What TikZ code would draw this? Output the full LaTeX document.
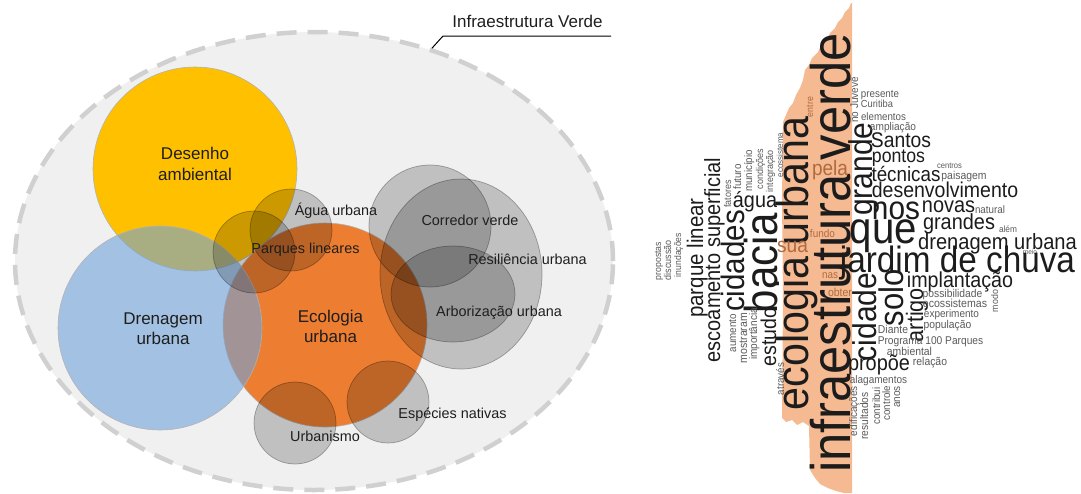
\documentclass[tikz,border=0pt]{standalone}
\usepackage{fontspec}
\setmainfont{Liberation Sans}
\usetikzlibrary{positioning,shapes.geometric}
\definecolor{gold}{RGB}{255,192,0}
\definecolor{sky}{RGB}{113,163,218}
\definecolor{ember}{RGB}{237,125,49}
\definecolor{halo}{RGB}{240,240,240}
\definecolor{rimgrey}{RGB}{208,208,208}
\definecolor{peach}{RGB}{245,186,146}
\definecolor{rust}{RGB}{176,106,62}
\definecolor{ink}{RGB}{30,30,30}
\definecolor{cloudink}{RGB}{28,28,28}
\definecolor{cloudgrey}{RGB}{90,90,90}
\newcommand{\wsz}[1]{\fontsize{#1}{#1}\selectfont}
\newcommand{\tall}[1]{\scalebox{1}[1.1]{#1}}
\tikzset{
  topicset/.style={circle, inner sep=0pt, line width=0.6pt, draw=black!30},
  grayset/.style={inner sep=0pt, fill=black, fill opacity=0.2, draw=black, draw opacity=0.3, line width=0.7pt},
  bigtag/.style={align=center, inner sep=0pt, text=ink, font=\fontsize{17}{20.5}\selectfont},
  tag/.style={inner sep=0pt, text=ink, font=\fontsize{14.4}{17}\selectfont},
  word/.style={inner sep=0pt, anchor=base, text=cloudink},
  vword/.style={word, rotate=90},
  faint/.style={text=cloudgrey},
  rusty/.style={text=rust}
}

\begin{document}
\begin{tikzpicture}[x=1pt, y=-1pt]
  \useasboundingbox (0,0) rectangle (1081,493);

  % Venn of themes
  \node[ellipse, inner sep=0pt, minimum width=598pt, minimum height=458pt, fill=halo, draw=rimgrey,
        line width=4.5pt, dash pattern=on 20pt off 11pt] (infra) at (314,261) {};
  \node[topicset, fill=gold, minimum size=204pt] (desenho) at (195,169) {};
  \node[topicset, fill=ember, minimum size=204pt] (ecologia) at (325,325) {};
  \node[topicset, fill=sky, fill opacity=0.6, minimum size=204pt] (drenagem) at (160,328) {};
  \node[grayset, circle, minimum size=82pt] (agua) at (291,230) {};
  \node[grayset, circle, minimum size=82pt] (parques) at (254,252) {};
  \node[grayset, circle, minimum size=122pt] (corredor) at (430,226) {};
  \node[grayset, ellipse, minimum width=162pt, minimum height=190pt] (resiliencia) at (461,274) {};
  \node[grayset, ellipse, minimum width=124pt, minimum height=96pt] (arborizacao) at (453,294) {};
  \node[grayset, circle, minimum size=82pt] (especies) at (388,402) {};
  \node[grayset, circle, minimum size=82pt] (urbanismo) at (295,423) {};

  \node[bigtag] (desenho-tag) at (195,164) {Desenho\\ambiental};
  \node[bigtag] (drenagem-tag) at (163,328.5) {Drenagem\\urbana};
  \node[bigtag] (ecologia-tag) at (330.5,326.5) {Ecologia\\urbana};
  \node[tag] (agua-tag) at (336,211) {Água urbana};
  \node[tag] (parques-tag) at (305.5,250) {Parques lineares};
  \node[tag] (corredor-tag) at (470,220) {Corredor verde};
  \node[tag] (resiliencia-tag) at (527.5,259) {Resiliência urbana};
  \node[tag] (arborizacao-tag) at (499,313) {Arborização urbana};
  \node[tag] (especies-tag) at (452.5,415) {Espécies nativas};
  \node[tag] (urbanismo-tag) at (325,436) {Urbanismo};

  \node[bigtag, anchor=base] (infra-tag) at (527.5,27.5) {Infraestrutura Verde};
  \coordinate (kink) at (443,36);
  \coordinate (tail) at (611,36);
  \draw[line width=1pt] (infra.61) -- (kink) -- (tail);

  % word cloud
  \fill[peach] (851,3) -- (849,8) -- (845,12) -- (842,18) -- (838,22) -- (835,28) -- (830,33)
    -- (827,40) -- (821,45) -- (818,52) -- (812,58) -- (809,65) -- (805,70) -- (803,80)
    -- (800,88) -- (796,95) -- (793,103) -- (789,108) -- (786,115) -- (783,122) -- (782,200)
    -- (783,300) -- (782,418) -- (786,422) -- (792,420) -- (797,425) -- (803,422) -- (809,426)
    -- (810,470) -- (815,478) -- (820,484) -- (828,488) -- (836,491) -- (844,493) -- (852,493)
    -- (852,3) -- cycle;

  \node[vword, faint, font=\wsz{8.7}] (w-propostas) at (661,261) {\tall{propostas}};
  \node[vword, faint, font=\wsz{9}] (w-discussao) at (671,260) {\tall{discussão}};
  \node[vword, faint, font=\wsz{8.6}] (w-inundacoes) at (681,255) {\tall{inundações}};
  \node[vword, font=\wsz{20.5}] (w-parque) at (703,258) {\tall{parque linear}};
  \node[vword, font=\wsz{20}] (w-escoamento) at (720,260) {\tall{escoamento superficial}};
  \node[vword, faint, font=\wsz{9}] (w-fatores) at (731,194) {\tall{fatores}};
  \node[vword, faint, font=\wsz{9.8}] (w-futuro) at (741,177) {\tall{futuro}};
  \node[vword, faint, font=\wsz{9.8}] (w-municipio) at (752,171) {\tall{município}};
  \node[vword, faint, font=\wsz{9}] (w-condicoes) at (763,169) {\tall{condições}};
  \node[vword, faint, font=\wsz{9}] (w-integracao) at (773,171) {\tall{integração}};
  \node[vword, faint, font=\wsz{8}] (w-ecossistema) at (783,155) {\tall{ecossistema}};
  \node[vword, font=\wsz{29.5}] (w-cidades) at (744,261) {\tall{cidades}};
  \node[vword, font=\wsz{42}] (w-bacia) at (777,263) {\tall{bacia}};
  \node[vword, font=\wsz{19.5}] (w-estudo) at (776,337) {\tall{estudo}};
  \node[vword, faint, font=\wsz{9.8}] (w-aumento) at (736,333) {\tall{aumento}};
  \node[vword, faint, font=\wsz{10.5}] (w-mostraram) at (747,338) {\tall{mostraram}};
  \node[vword, faint, font=\wsz{10}] (w-importancia) at (757,334) {\tall{importância}};
  \node[vword, faint, font=\wsz{9.8}] (w-atraves) at (784,379) {\tall{através}};
  \node[vword, font=\wsz{41.2}] (w-ecologia) at (808,263.5) {\tall{ecologia urbana}};
  \node[vword, font=\wsz{50.7}] (w-infra) at (850,253) {\tall{infraestrutura verde}};
  \node[vword, rusty, font=\wsz{8.8}] (w-entre) at (813,107) {\tall{entre}};
  \node[vword, faint, font=\wsz{10}] (w-juveve) at (858,100) {\tall{no Juvevê}};
  \node[vword, font=\wsz{30}] (w-grande) at (872,169) {\tall{grande}};
  \node[vword, font=\wsz{30}] (w-cidade) at (876,317) {\tall{cidade}};
  \node[vword, font=\wsz{31}] (w-solo) at (903,298) {\tall{solo}};
  \node[vword, font=\wsz{21.6}] (w-artigo) at (923,315) {\tall{artigo}};
  \node[vword, faint, font=\wsz{8.8}] (w-modo) at (998,301) {\tall{modo}};
  \node[vword, faint, font=\wsz{10}] (w-edificacoes) at (857,411) {\tall{edificações}};
  \node[vword, faint, font=\wsz{10.2}] (w-resultados) at (868,416) {\tall{resultados}};
  \node[vword, faint, font=\wsz{9.8}] (w-contribui) at (880,406) {\tall{contribui}};
  \node[vword, faint, font=\wsz{9.8}] (w-controle) at (890,403) {\tall{controle}};
  \node[vword, faint, font=\wsz{10}] (w-anos) at (900,397) {\tall{anos}};

  \node[word, faint, font=\wsz{9.8}] (w-presente) at (880,97) {\tall{presente}};
  \node[word, faint, font=\wsz{9.3}] (w-curitiba) at (877,107) {\tall{Curitiba}};
  \node[word, faint, font=\wsz{9.75}] (w-elementos) at (883.5,120.5) {\tall{elementos}};
  \node[word, faint, font=\wsz{10.1}] (w-ampliacao) at (893,130) {\tall{ampliação}};
  \node[word, font=\wsz{19.3}] (w-santos) at (901,147) {\tall{Santos}};
  \node[word, font=\wsz{17.7}] (w-pontos) at (898.5,162.5) {\tall{pontos}};
  \node[word, faint, font=\wsz{7.6}] (w-centros) at (949.5,168) {\tall{centros}};
  \node[word, font=\wsz{18.8}] (w-tecnicas) at (906,181.5) {\tall{técnicas}};
  \node[word, faint, font=\wsz{10.4}] (w-paisagem) at (964,179) {\tall{paisagem}};
  \node[word, font=\wsz{19.5}] (w-desenvolvimento) at (945,197.5) {\tall{desenvolvimento}};
  \node[word, font=\wsz{19.9}] (w-novas) at (948.5,212) {\tall{novas}};
  \node[word, faint, font=\wsz{9.8}] (w-natural) at (990,213) {\tall{natural}};
  \node[word, font=\wsz{29.8}] (w-nos) at (896,219.5) {\tall{nos}};
  \node[word, font=\wsz{19.9}] (w-grandes) at (959,229.5) {\tall{grandes}};
  \node[word, faint, font=\wsz{8.3}] (w-alem) at (1008,232.7) {\tall{além}};
  \node[word, font=\wsz{40.2}] (w-que) at (883.5,243) {\tall{que}};
  \node[word, font=\wsz{20.1}] (w-drenagem) at (997.5,249.5) {\tall{drenagem urbana}};
  \node[word, faint, font=\wsz{6.5}] (w-meio) at (1030,254) {\tall{meio}};
  \node[word, font=\wsz{33.3}] (w-jardim) at (957.5,272.5) {\tall{jardim de chuva}};
  \node[word, font=\wsz{19.7}] (w-implantacao) at (960,287) {\tall{implantação}};
  \node[word, faint, font=\wsz{10.3}] (w-possibilidade) at (952.5,297.5) {\tall{possibilidade}};
  \node[word, faint, font=\wsz{10.6}] (w-ecossistemas) at (955,307.5) {\tall{ecossistemas}};
  \node[word, faint, font=\wsz{10}] (w-experimento) at (951.5,317.5) {\tall{experimento}};
  \node[word, faint, font=\wsz{10.3}] (w-populacao) at (947.5,328) {\tall{população}};
  \node[word, faint, font=\wsz{10.4}] (w-diante) at (893,333) {\tall{Diante}};
  \node[word, faint, font=\wsz{10.2}] (w-programa) at (930.5,344) {\tall{Programa 100 Parques}};
  \node[word, faint, font=\wsz{10.4}] (w-ambiental) at (909.5,355) {\tall{ambiental}};
  \node[word, faint, font=\wsz{10.4}] (w-relacao) at (930,365) {\tall{relação}};
  \node[word, font=\wsz{19.9}] (w-propoe) at (879,370.5) {\tall{propõe}};
  \node[word, faint, font=\wsz{10}] (w-alagamentos) at (878.5,383) {\tall{alagamentos}};
  \node[word, font=\wsz{19.8}] (w-agua) at (755,207) {\tall{água}};
  \node[word, rusty, font=\wsz{19}] (w-pela) at (830,175.7) {\tall{pela}};
  \node[word, rusty, font=\wsz{19.2}] (w-sua) at (792.5,252) {\tall{sua}};
  \node[word, rusty, font=\wsz{10}] (w-fundo) at (822.5,237.5) {\tall{fundo}};
  \node[word, rusty, font=\wsz{9.9}] (w-nas) at (830,278) {\tall{nas}};
  \node[word, rusty, font=\wsz{10.5}] (w-obter) at (840,296.5) {\tall{obter}};
\end{tikzpicture}
\end{document}
